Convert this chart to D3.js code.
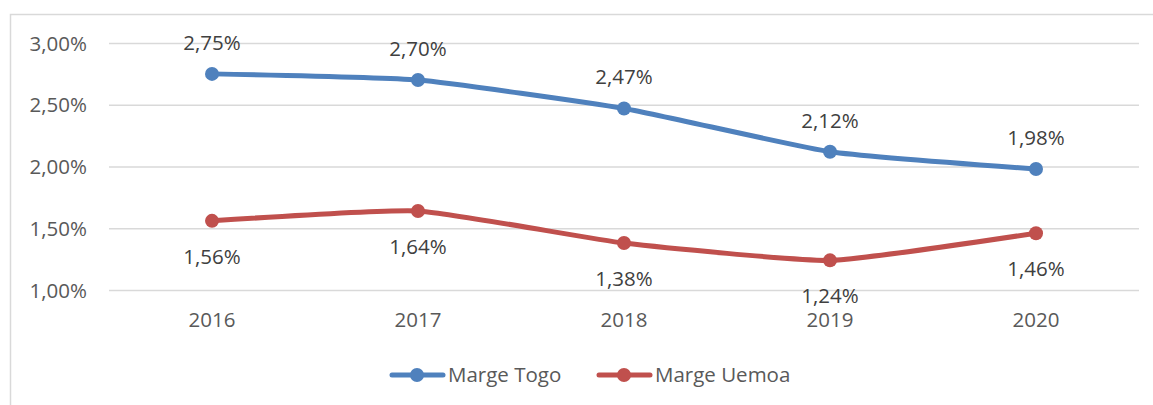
<!DOCTYPE html>
<html>
<head>
<meta charset="utf-8">
<script src="https://cdn.jsdelivr.net/npm/d3@7"></script>
<style>
body { margin:0; background:#fff; }
svg text { font-family:"Open Sans", sans-serif; }
</style>
</head>
<body>
<svg id="chart"></svg>
<script>
// data
var years = ["2016","2017","2018","2019","2020"]
var margeTogo = [2.75, 2.70, 2.47, 2.12, 1.98]
var margeUemoa = [1.56, 1.64, 1.38, 1.24, 1.46]
var yTicks = [1.0, 1.5, 2.0, 2.5, 3.0]
var seriesNames = ["Marge Togo", "Marge Uemoa"]

var screen = {width:1153, height:405}
var margins = {left:109, right:14, top:43, bottom:115}
var graph = {
    width:screen.width-margins.left-margins.right,
    height:screen.height-margins.top-margins.bottom
}

var fmt = function(v){ return v.toFixed(2).replace(".", ",") + "%" }

var svg = d3.select("#chart")
    .attr("width", screen.width)
    .attr("height", screen.height)

// outer chart border
svg.append("rect")
    .attr("x", 10.5).attr("y", 14.5)
    .attr("width", 1160).attr("height", 420)
    .attr("fill", "none")
    .attr("stroke", "#d9d9d9")
    .attr("stroke-width", 1.5)

var target = svg.append("g")
    .attr("transform", "translate(" + margins.left + "," + margins.top + ")")

var xScale = d3.scaleBand()
    .domain(years)
    .range([0, graph.width])

var yScale = d3.scaleLinear()
    .domain([1.0, 3.0])
    .range([247, 0])

var colors = ["#4f81bd", "#c0504d"]

// gridlines
var yAxis = d3.axisLeft(yScale)
    .tickValues(yTicks)
    .tickSize(-graph.width)
    .tickPadding(22)
    .tickFormat(fmt)
target.append("g")
    .attr("class", "yaxis")
    .call(yAxis)
    .call(function(g){
        g.select(".domain").remove()
        g.selectAll("line").attr("stroke", "#d9d9d9").attr("stroke-width", 1.5)
        g.selectAll("text").attr("fill", "#595959").style("font-size", "20.5px").attr("dy", "0.35em")
    })

var xAxis = d3.axisBottom(xScale).tickSize(0).tickPadding(22)
target.append("g")
    .attr("transform", "translate(0,247)")
    .call(xAxis)
    .call(function(g){
        g.select(".domain").remove()
        g.selectAll("text").attr("fill", "#595959").style("font-size", "20.5px")
    })

var line = d3.line()
    .x(function(d,i){ return xScale(years[i]) + xScale.bandwidth()/2 })
    .y(function(d){ return yScale(d) })
    .curve(d3.curveCardinal.tension(0.55))

var drawSeries = function(values, color, labelDy)
{
    var g = target.append("g")
    g.append("path")
        .datum(values)
        .attr("d", line)
        .attr("fill", "none")
        .attr("stroke", color)
        .attr("stroke-width", 5)
        .attr("stroke-linecap", "round")
    g.selectAll("circle")
        .data(values)
        .enter()
        .append("circle")
        .attr("cx", function(d,i){ return xScale(years[i]) + xScale.bandwidth()/2 })
        .attr("cy", function(d){ return yScale(d) })
        .attr("r", 7)
        .attr("fill", color)
    g.selectAll("text")
        .data(values)
        .enter()
        .append("text")
        .text(fmt)
        .attr("x", function(d,i){ return xScale(years[i]) + xScale.bandwidth()/2 })
        .attr("y", function(d){ return yScale(d) + labelDy })
        .attr("text-anchor", "middle")
        .attr("fill", "#404040")
        .style("font-size", "20.5px")
}

drawSeries(margeTogo, colors[0], -24)
drawSeries(margeUemoa, colors[1], 43)

// legend
var legend = svg.append("g").attr("class", "legend")
var entries = legend.selectAll("g")
    .data(seriesNames)
    .enter()
    .append("g")
    .attr("transform", function(d,i){ return "translate(" + (390 + i*207) + ",375)" })
entries.append("line")
    .attr("x1", 2).attr("x2", 53)
    .attr("stroke", function(d,i){ return colors[i] })
    .attr("stroke-width", 5)
    .attr("stroke-linecap", "round")
entries.append("circle")
    .attr("cx", 27).attr("r", 7)
    .attr("fill", function(d,i){ return colors[i] })
entries.append("text")
    .text(function(d){ return d })
    .attr("x", 58)
    .attr("dy", "0.35em")
    .attr("fill", "#595959")
    .style("font-size", "20.5px")
</script>
</body>
</html>
